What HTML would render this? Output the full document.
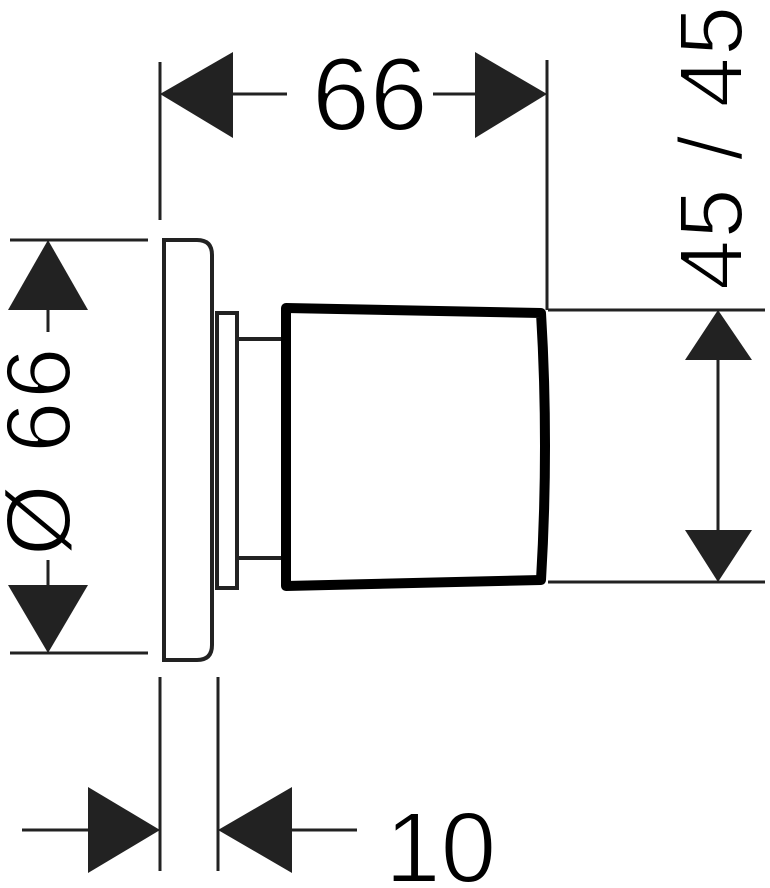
<!DOCTYPE html>
<html><head><meta charset="utf-8"><style>html,body{margin:0;padding:0;background:#fff}svg{display:block}</style></head>
<body>
<svg width="770" height="888" viewBox="0 0 770 888" xmlns="http://www.w3.org/2000/svg" font-family="Liberation Sans, sans-serif">
<g stroke="#222" fill="none" stroke-width="3">
<line x1="160" y1="62" x2="160" y2="220"/>
<line x1="547" y1="60" x2="547" y2="310"/>
<line x1="230" y1="94" x2="287" y2="94"/>
<line x1="433" y1="94" x2="478" y2="94"/>
<line x1="10" y1="240" x2="148" y2="240"/>
<line x1="10" y1="653" x2="148" y2="653"/>
<line x1="48" y1="305" x2="48" y2="332"/>
<line x1="48" y1="560" x2="48" y2="590"/>
<line x1="548" y1="310" x2="765" y2="310"/>
<line x1="548" y1="582" x2="765" y2="582"/>
<line x1="718" y1="355" x2="718" y2="535"/>
<line x1="160" y1="677" x2="160" y2="871"/>
<line x1="218" y1="677" x2="218" y2="871"/>
<line x1="22" y1="830" x2="90" y2="830"/>
<line x1="290" y1="830" x2="357" y2="830"/>
<path d="M164 240 H197 Q212 240 212 255 V645 Q212 660 197 660 H164 Z" stroke-width="4"/>
<rect x="217" y="313" width="20" height="275" stroke-width="4"/>
<line x1="237" y1="339" x2="285" y2="339" stroke-width="4"/>
<line x1="237" y1="558" x2="285" y2="558" stroke-width="4"/>
</g>
<g fill="#222">
<polygon points="160,94 233,52 233,138"/>
<polygon points="547,94 475,52 475,138"/>
<polygon points="48,240 8,310 88,310"/>
<polygon points="48,653 8,585 88,585"/>
<polygon points="718,310 685,360 752,360"/>
<polygon points="718,582 685,530 752,530"/>
<polygon points="160,830 88,787 88,873"/>
<polygon points="218,830 292,787 292,873"/>
</g>
<path d="M286 308 L541 313 Q549 445 541 580 L286 586 Z" fill="none" stroke="#000" stroke-width="10" stroke-linejoin="round"/>
<g fill="#000" stroke="#fff" stroke-width="2">
<text x="312" y="130" font-size="104">66</text>
<text x="385" y="882" font-size="100">10</text>
<text transform="translate(742,290) rotate(-90)" font-size="90" letter-spacing="1.5">45 / 45</text>
<text transform="translate(70,556) rotate(-90)" font-size="92" letter-spacing="3">Ø 66</text>
</g>
</svg>
</body></html>
